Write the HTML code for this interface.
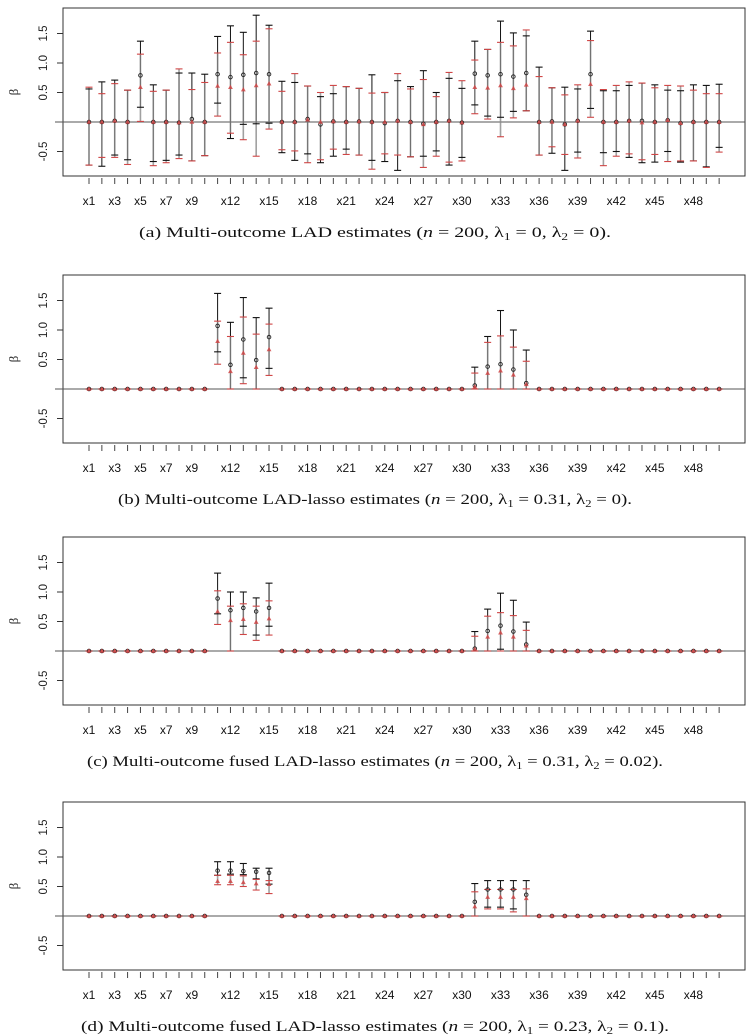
<!DOCTYPE html>
<html><head><meta charset="utf-8"><style>
html,body{margin:0;padding:0;background:#fff;}
svg{display:block;}
</style></head><body>
<svg id="fig" width="750" height="1035" viewBox="0 0 750 1035" xmlns="http://www.w3.org/2000/svg"></svg>
<script>
// ---------- data ----------
const varLabels = ["x1","x3","x5","x7","x9","x12","x15","x18","x21","x24","x27","x30","x33","x36","x39","x42","x45","x48"];
const yTicks = [-0.5, 0.5, 1.0, 1.5];
const yTickLabels = ["-0.5","0.5","1.0","1.5"];
const captions = [
  ["(a) Multi-outcome LAD estimates (", "n", " = 200, ", "λ", "1", " = 0, ", "λ", "2", " = 0)."],
  ["(b) Multi-outcome LAD-lasso estimates (", "n", " = 200, ", "λ", "1", " = 0.31, ", "λ", "2", " = 0)."],
  ["(c) Multi-outcome fused LAD-lasso estimates (", "n", " = 200, ", "λ", "1", " = 0.31, ", "λ", "2", " = 0.02)."],
  ["(d) Multi-outcome fused LAD-lasso estimates (", "n", " = 200, ", "λ", "1", " = 0.23, ", "λ", "2", " = 0.1)."]
];

// Panel (a)
const aBlackPt = [0,0,0.02,0,0.79,0,0,-0.01,0.05,0,0.81,0.76,0.8,0.83,0.81,0,0,0.05,-0.04,0.01,0,0.01,0,-0.02,0.02,0,-0.03,0,0.02,-0.01,0.82,0.79,0.81,0.77,0.83,0,0.01,-0.04,0.02,0.81,0,0,0.02,0.02,0,0.03,-0.02,0,0,0];
const aRedPt = [0,0,0.02,0,0.59,0,0,-0.01,0,0,0.61,0.59,0.55,0.62,0.65,0,0,0.04,0,0.01,0,0.01,0,0,0.02,0,-0.04,0,0.02,-0.01,0.59,0.58,0.62,0.57,0.63,0,0,-0.04,0.02,0.64,0,0,0.02,-0.01,0,0.03,-0.02,0,0,0];
const aBlackHi = [0.56,0.68,0.71,0.54,1.37,0.63,0.54,0.83,0.83,0.81,1.45,1.63,1.52,1.81,1.64,0.69,0.67,0.61,0.43,0.48,0.6,0.57,0.8,0.5,0.7,0.6,0.87,0.5,0.74,0.57,1.37,1.23,1.71,1.51,1.46,0.93,0.58,0.59,0.56,1.54,0.53,0.53,0.62,0.66,0.63,0.54,0.53,0.63,0.62,0.64];
const aBlackLo = [-0.73,-0.75,-0.56,-0.64,0.25,-0.67,-0.65,-0.56,-0.66,-0.57,0.32,-0.28,-0.04,-0.03,-0.02,-0.52,-0.65,-0.54,-0.69,-0.58,-0.46,-0.56,-0.65,-0.67,-0.82,-0.59,-0.58,-0.49,-0.73,-0.6,0.29,0.1,0.08,0.18,0.19,-0.56,-0.53,-0.82,-0.51,0.23,-0.52,-0.5,-0.6,-0.69,-0.68,-0.5,-0.68,-0.66,-0.76,-0.43];
const aRedHi = [0.59,0.48,0.65,0.54,1.15,0.52,0.54,0.9,0.55,0.67,1.17,1.35,1.14,1.37,1.58,0.52,0.82,0.61,0.5,0.62,0.6,0.57,0.49,0.5,0.82,0.56,0.72,0.43,0.84,0.7,1.05,1.23,1.35,1.29,1.56,0.77,0.58,0.46,0.63,1.38,0.55,0.62,0.68,0.66,0.58,0.62,0.61,0.54,0.48,0.48];
const aRedLo = [-0.73,-0.6,-0.6,-0.72,0.01,-0.74,-0.69,-0.62,-0.66,-0.57,0.1,-0.19,-0.3,-0.58,-0.12,-0.47,-0.49,-0.69,-0.64,-0.46,-0.55,-0.56,-0.8,-0.54,-0.56,-0.59,-0.77,-0.58,-0.68,-0.66,0.14,0.05,-0.25,0.07,0.19,-0.56,-0.42,-0.55,-0.61,0.08,-0.74,-0.58,-0.54,-0.64,-0.55,-0.67,-0.66,-0.66,-0.77,-0.51];

// Panel (b)
const bBlackPt = [0,0,0,0,0,0,0,0,0,0,1.07,0.41,0.84,0.49,0.88,0,0,0,0,0,0,0,0,0,0,0,0,0,0,0,0.06,0.38,0.42,0.33,0.1,0,0,0,0,0,0,0,0,0,0,0,0,0,0,0];
const bRedPt = [0,0,0,0,0,0,0,0,0,0,0.81,0.3,0.61,0.37,0.67,0,0,0,0,0,0,0,0,0,0,0,0,0,0,0,0.04,0.27,0.31,0.24,0.08,0,0,0,0,0,0,0,0,0,0,0,0,0,0,0];
const bBlackHi = [0,0,0,0,0,0,0,0,0,0,1.62,1.13,1.55,1.21,1.37,0,0,0,0,0,0,0,0,0,0,0,0,0,0,0,0.37,0.89,1.33,1.0,0.66,0,0,0,0,0,0,0,0,0,0,0,0,0,0,0];
const bBlackLo = [0,0,0,0,0,0,0,0,0,0,0.63,0,0.19,0,0.35,0,0,0,0,0,0,0,0,0,0,0,0,0,0,0,0,0,0,0,0,0,0,0,0,0,0,0,0,0,0,0,0,0,0,0];
const bRedHi = [0,0,0,0,0,0,0,0,0,0,1.15,0.89,1.22,0.93,1.1,0,0,0,0,0,0,0,0,0,0,0,0,0,0,0,0.27,0.79,0.9,0.71,0.47,0,0,0,0,0,0,0,0,0,0,0,0,0,0,0];
const bRedLo = [0,0,0,0,0,0,0,0,0,0,0.42,0,0.09,0,0.23,0,0,0,0,0,0,0,0,0,0,0,0,0,0,0,0,0,0,0,0,0,0,0,0,0,0,0,0,0,0,0,0,0,0,0];

// Panel (c)
const cBlackPt = [0,0,0,0,0,0,0,0,0,0,0.89,0.69,0.73,0.67,0.73,0,0,0,0,0,0,0,0,0,0,0,0,0,0,0,0.04,0.34,0.43,0.33,0.11,0,0,0,0,0,0,0,0,0,0,0,0,0,0,0];
const cRedPt = [0,0,0,0,0,0,0,0,0,0,0.67,0.52,0.54,0.49,0.55,0,0,0,0,0,0,0,0,0,0,0,0,0,0,0,0.03,0.24,0.31,0.24,0.09,0,0,0,0,0,0,0,0,0,0,0,0,0,0,0];
const cBlackHi = [0,0,0,0,0,0,0,0,0,0,1.32,1.0,1.0,0.9,1.15,0,0,0,0,0,0,0,0,0,0,0,0,0,0,0,0.33,0.71,0.98,0.86,0.49,0,0,0,0,0,0,0,0,0,0,0,0,0,0,0];
const cBlackLo = [0,0,0,0,0,0,0,0,0,0,0.63,0,0.42,0.27,0.42,0,0,0,0,0,0,0,0,0,0,0,0,0,0,0,0,0,0.03,0,0,0,0,0,0,0,0,0,0,0,0,0,0,0,0,0];
const cRedHi = [0,0,0,0,0,0,0,0,0,0,1.02,0.76,0.8,0.76,0.85,0,0,0,0,0,0,0,0,0,0,0,0,0,0,0,0.25,0.59,0.65,0.6,0.35,0,0,0,0,0,0,0,0,0,0,0,0,0,0,0];
const cRedLo = [0,0,0,0,0,0,0,0,0,0,0.45,0,0.28,0.18,0.27,0,0,0,0,0,0,0,0,0,0,0,0,0,0,0,0,0,0,0,0,0,0,0,0,0,0,0,0,0,0,0,0,0,0,0];

// Panel (d)
const dBlackPt = [0,0,0,0,0,0,0,0,0,0,0.77,0.77,0.76,0.75,0.73,0,0,0,0,0,0,0,0,0,0,0,0,0,0,0,0.24,0.45,0.45,0.45,0.36,0,0,0,0,0,0,0,0,0,0,0,0,0,0,0];
const dRedPt = [0,0,0,0,0,0,0,0,0,0,0.59,0.59,0.57,0.55,0.54,0,0,0,0,0,0,0,0,0,0,0,0,0,0,0,0.16,0.32,0.32,0.32,0.3,0,0,0,0,0,0,0,0,0,0,0,0,0,0,0];
const dBlackHi = [0,0,0,0,0,0,0,0,0,0,0.92,0.92,0.89,0.81,0.81,0,0,0,0,0,0,0,0,0,0,0,0,0,0,0,0.55,0.6,0.6,0.6,0.6,0,0,0,0,0,0,0,0,0,0,0,0,0,0,0];
const dBlackLo = [0,0,0,0,0,0,0,0,0,0,0.69,0.71,0.7,0.63,0.54,0,0,0,0,0,0,0,0,0,0,0,0,0,0,0,0,0.15,0.15,0.12,0,0,0,0,0,0,0,0,0,0,0,0,0,0,0,0];
const dRedHi = [0,0,0,0,0,0,0,0,0,0,0.69,0.69,0.68,0.62,0.6,0,0,0,0,0,0,0,0,0,0,0,0,0,0,0,0.41,0.45,0.45,0.45,0.46,0,0,0,0,0,0,0,0,0,0,0,0,0,0,0];
const dRedLo = [0,0,0,0,0,0,0,0,0,0,0.53,0.53,0.5,0.44,0.38,0,0,0,0,0,0,0,0,0,0,0,0,0,0,0,0,0.12,0.12,0.07,0,0,0,0,0,0,0,0,0,0,0,0,0,0,0,0];

const panels = [
  {id:"a", bp:aBlackPt, rp:aRedPt, bh:aBlackHi, bl:aBlackLo, rh:aRedHi, rl:aRedLo},
  {id:"b", bp:bBlackPt, rp:bRedPt, bh:bBlackHi, bl:bBlackLo, rh:bRedHi, rl:bRedLo},
  {id:"c", bp:cBlackPt, rp:cRedPt, bh:cBlackHi, bl:cBlackLo, rh:cRedHi, rl:cRedLo},
  {id:"d", bp:dBlackPt, rp:dRedPt, bh:dBlackHi, bl:dBlackLo, rh:dRedHi, rl:dRedLo}
];

// ---------- layout ----------
const NS = "http://www.w3.org/2000/svg";
const svg = document.getElementById("fig");
const tops = [8, 275, 537, 802];
const capW = [472, 514, 576, 588];
const BOX_L = 63, BOX_R = 745, BOX_H = 168, ZERO_OFF = 114, UNIT = 59;
const X0 = 89, DX = 12.86;
function xScale(i){ return X0 + i*DX; }
function mk(tag, attrs, parent){
  const e = document.createElementNS(NS, tag);
  for (const k in attrs) e.setAttribute(k, attrs[k]);
  (parent||svg).appendChild(e);
  return e;
}

panels.forEach((p, pi) => {
  const top = tops[pi];
  const yScale = v => top + ZERO_OFF - v*UNIT;
  const g = mk("g", {});
  
  

  const box = mk("rect", {x:BOX_L, y:top, width:BOX_R-BOX_L, height:BOX_H, fill:"none", stroke:"#333", "stroke-width":1}, g);
  
  

  const zl = mk("line", {x1:55, x2:BOX_R, y1:yScale(0), y2:yScale(0), stroke:"#555", "stroke-width":1}, g);
  
  

  const ya = mk("g", {}, g);
  
  
  yTicks.forEach((t, k) => {
    const y = yScale(t);
    mk("line", {x1:57, x2:BOX_L, y1:y, y2:y, stroke:"#333"}, ya);
    const tx = mk("text", {x:0, y:0, transform:`translate(47,${y}) rotate(-90)`, "text-anchor":"middle",
      "font-family":"Liberation Sans, sans-serif", "font-size":"11.5", fill:"#222"}, ya);
    tx.textContent = yTickLabels[k];
    
    
  });
  const yt = mk("text", {x:0, y:0, transform:`translate(18,${top+84}) rotate(-90)`, "text-anchor":"middle",
    "font-family":"Liberation Serif, serif", "font-size":"13", fill:"#222"}, g);
  yt.textContent = "β";
  
  

  const xa = mk("g", {}, g);
  
  
  for (let i = 0; i < 50; i++) {
    mk("line", {x1:xScale(i), x2:xScale(i), y1:top+BOX_H+2, y2:top+BOX_H+8, stroke:"#444"}, xa);
  }
  varLabels.forEach(lab => {
    const idx = parseInt(lab.slice(1)) - 1;
    const tx = mk("text", {x:xScale(idx), y:top+197, "text-anchor":"middle",
      "font-family":"Liberation Sans, sans-serif", "font-size":"12", fill:"#111"}, xa);
    tx.textContent = lab;
    
    
  });

  for (let i = 0; i < 50; i++) {
    const x = xScale(i);
    const vg = mk("g", {}, g);
    
    
    mk("line", {x1:x, x2:x, y1:yScale(p.bl[i]), y2:yScale(p.bh[i]), stroke:"#111", "stroke-width":1}, vg);
    mk("line", {x1:x, x2:x, y1:yScale(p.rl[i]), y2:yScale(p.rh[i]), stroke:"#888", "stroke-width":1.6, "stroke-opacity":0.8}, vg);
    [p.bl[i], p.bh[i]].forEach(v => {
      mk("line", {x1:x-3.5, x2:x+3.5, y1:yScale(v), y2:yScale(v), stroke:"#111", "stroke-width":1.1}, vg);
    });
    [p.rl[i], p.rh[i]].forEach(v => {
      mk("line", {x1:x-3.5, x2:x+3.5, y1:yScale(v), y2:yScale(v), stroke:"#d04545", "stroke-width":1.1}, vg);
    });
    const c = mk("circle", {cx:x, cy:yScale(p.bp[i]), r:1.8, fill:"none", stroke:"#222", "stroke-width":0.9}, vg);
    
    
    const ry = yScale(p.rp[i]);
    const tri = mk("polygon", {points:`${x},${ry-2.6} ${x-2.4},${ry+1.8} ${x+2.4},${ry+1.8}`, fill:"#d04545", "fill-opacity":0.85}, vg);
    
    
  }

  const cap = captions[pi];
  const ct = mk("text", {x:375, y:top+229, "text-anchor":"middle", "font-family":"Liberation Serif, serif",
    "font-size":"15", fill:"#111", textLength:capW[pi], lengthAdjust:"spacingAndGlyphs"}, g);
  
  
  cap.forEach((s, k) => {
    const ts = document.createElementNS(NS, "tspan");
    if (k === 1) ts.setAttribute("font-style", "italic");
    if (k === 4 || k === 7) { ts.setAttribute("font-size", "10"); ts.setAttribute("dy", "3"); }
    if (k === 5 || k === 8) ts.setAttribute("dy", "-3");
    ts.textContent = s;
    ct.appendChild(ts);
  });
});
</script>
</body></html>
